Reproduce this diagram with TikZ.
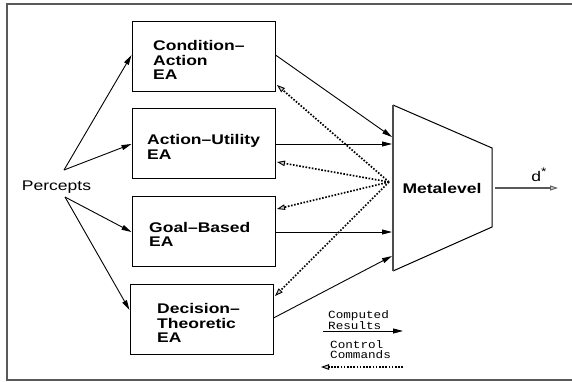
\documentclass[tikz,border=0pt]{standalone}
\usepackage{fontspec}
\setmainfont[FakeStretch=1.25]{Liberation Sans}
\newfontfamily\legfont[FakeStretch=1.15]{Liberation Mono}
\usetikzlibrary{arrows.meta}
\begin{document}
\begin{tikzpicture}[x=1pt,y=-1pt,
  eabox/.style={draw,line width=1pt,minimum width=143pt,minimum height=70pt,inner sep=0pt},
  ealbl/.style={anchor=west,align=left,inner sep=0pt,font=\fontsize{14}{14.5}\selectfont\bfseries},
  res/.style={line width=0.9pt,-{Triangle[length=10pt,width=5pt]}},
  ctl/.style={line width=1.7pt,dash pattern=on 1.6pt off 1.6pt,-{Triangle[open,length=8pt,width=5.5pt,line width=0.9pt,fill=gray!40]}},
  leg/.style={anchor=west,align=left,inner sep=0pt,font=\legfont\fontsize{11}{10}\selectfont}]
\useasboundingbox (0,0) rectangle (572,381);
% frame
\draw[line width=1.5pt,black!65] (572,4) -- (7,4) -- (7,380) -- (572,380);
% EA boxes
\node[eabox] (ca) at (203.5,56) {};
\node[eabox] (au) at (203.5,143) {};
\node[eabox] (gb) at (203.5,231) {};
\node[eabox] (dt) at (201.5,319) {};
\node[ealbl] (catxt) at (153,60) {Condition–\\Action\\EA};
\node[ealbl] (autxt) at (147,147) {Action–Utility\\EA};
\node[ealbl] (gbtxt) at (149,234.5) {Goal–Based\\EA};
\node[ealbl] (dttxt) at (157,323) {Decision–\\Theoretic\\EA};
% percepts
\node[inner sep=0pt,font=\fontsize{14}{14.5}\selectfont] (perc) at (56.5,187) {Percepts};
\coordinate (p1) at (64,170);
\coordinate (p2) at (65,197);
\draw[res] (p1) -- (ca.west |- 0,55);
\draw[res] (p1) -- (au.west |- 0,144);
\draw[res] (p2) -- (gb.west |- 0,232);
\draw[res] (p2) -- (dt.west |- 0,310);
% metalevel
\coordinate (m1) at (393,105);
\coordinate (m2) at (492,148);
\coordinate (m3) at (492,227);
\coordinate (m4) at (393,271);
\draw[line width=1pt] (m1) -- (m2) -- (m3) -- (m4);
\draw[line width=1.8pt,black!70] (m4) -- (m1);
\node[inner sep=0pt,font=\fontsize{14}{14.5}\selectfont\bfseries] (meta) at (442,188) {Metalevel};
% results
\coordinate (r1) at (392,137);
\coordinate (r2) at (392,144);
\coordinate (r3) at (392,232);
\coordinate (r4) at (392,256);
\draw[res] (ca.east |- 0,55) -- (r1);
\draw[res] (au.east |- 0,144) -- (r2);
\draw[res] (gb.east |- 0,232) -- (r3);
\draw[res] (dt.east |- 0,318) -- (r4);
% control
\coordinate (hub) at (389,182);
\draw[ctl] (hub) -- (277,85);
\draw[ctl] (hub) -- (277,162);
\draw[ctl] (hub) -- (277,209);
\draw[ctl] (hub) -- (275,296);
% output
\coordinate (o1) at (495,188);
\coordinate (o2) at (558,188);
\draw[line width=1.3pt,black!65,-{Triangle[open,length=8pt,width=5pt,line width=0.9pt,fill=gray!40]}] (o1) -- (o2);
\node[inner sep=0pt,font=\fontsize{14}{14.5}\selectfont] (dstar) at (539,175) {d\raisebox{6pt}{\fontsize{11}{11}\selectfont *}};
% legend
\node[leg] (legr) at (328,320) {Computed\\Results};
\coordinate (lr1) at (323,331);
\coordinate (lr2) at (403,331);
\draw[res] (lr1) -- (lr2);
\node[leg] (legc) at (330,350) {Control\\Commands};
\coordinate (lc1) at (403,367);
\coordinate (lc2) at (321,367);
\draw[ctl] (lc1) -- (lc2);
\end{tikzpicture}
\end{document}
